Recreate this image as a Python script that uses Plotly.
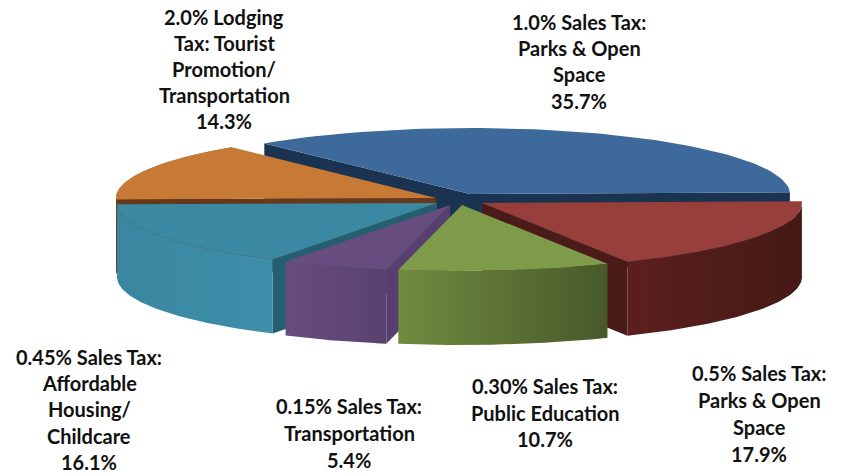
import math
import plotly.graph_objects as go

# ---- data ----
categories = ["1.0% Sales Tax: Parks & Open Space",
              "0.5% Sales Tax: Parks & Open Space",
              "0.30% Sales Tax: Public Education",
              "0.15% Sales Tax: Transportation",
              "0.45% Sales Tax: Affordable Housing/ Childcare",
              "2.0% Lodging Tax: Tourist Promotion/ Transportation"]
shares = [35.7, 17.9, 10.7, 5.4, 16.1, 14.3]
label_lines = [["1.0% Sales Tax:", "Parks & Open", "Space", "35.7%"],
               ["0.5% Sales Tax:", "Parks & Open", "Space", "17.9%"],
               ["0.30% Sales Tax:", "Public Education", "10.7%"],
               ["0.15% Sales Tax:", "Transportation", "5.4%"],
               ["0.45% Sales Tax:", "Affordable", "Housing/", "Childcare", "16.1%"],
               ["2.0% Lodging", "Tax: Tourist", "Promotion/", "Transportation", "14.3%"]]

# ---- styling / layout constants ----
W, H = 852, 474
START = -40.0
RX, RY, DEPTH = 320, 66, 74
apex = [(470, 194), (482, 203), (462, 205), (450, 205), (437, 203), (436, 198)]
top_col = ["#3E6A9B", "#983F3C", "#7E9B49", "#674C80", "#3B88A2", "#C67A36"]
face_col = ["#1A3350", "#4A1B18", "#4A5C27", "#574070", "#235F70", "#66391A"]
rim_cols = [("#1A3350", "#1A3350"), ("#5C201D", "#451916"), ("#708B3F", "#47592A"),
            ("#674C80", "#59426F"), ("#3A86A0", "#3D8EA9"), ("#C67A36", "#8A5020")]
label_pos = [(579, 22, 26.2), (759, 373, 27), (545, 386, 26.5),
             (349, 406, 27), (89, 357, 26.2), (224, 17, 26)]

# angles derived from shares
edges = [START]
for s in shares:
    edges.append(edges[-1] + s * 3.6)


def arc(c, a0, a1, dy=0, n=70):
    pts = []
    for i in range(n + 1):
        t = math.radians(a0 + (a1 - a0) * i / n)
        pts.append((c[0] + RX * math.sin(t), c[1] - RY * math.cos(t) + dy))
    return pts


fig = go.Figure()


def poly(pts, color, grad=None):
    xs = [p[0] for p in pts] + [pts[0][0]]
    ys = [p[1] for p in pts] + [pts[0][1]]
    kw = dict(fillcolor=color)
    if grad:
        kw = dict(fillgradient=dict(type="horizontal",
                                    colorscale=[[0, grad[0]], [1, grad[1]]]))
    fig.add_trace(go.Scatter(x=xs, y=ys, mode="lines", fill="toself",
                             line=dict(width=0, color=color),
                             hoverinfo="skip", showlegend=False, **kw))


def rim(i):
    a = arc(apex[i], edges[i], edges[i + 1])
    b = arc(apex[i], edges[i], edges[i + 1], DEPTH)
    poly(a + b[::-1], face_col[i], rim_cols[i])


def side(i, which):
    c = apex[i]
    ang = edges[i] if which == 0 else edges[i + 1]
    p = arc(c, ang, ang, n=1)[0]
    poly([c, p, (p[0], p[1] + DEPTH), (c[0], c[1] + DEPTH)], face_col[i])


def top(i):
    poly([apex[i]] + arc(apex[i], edges[i], edges[i + 1]), top_col[i])


# painter's order, back to front
# blue
side(0, 0); side(0, 1); top(0)
# orange
rim(5); side(5, 0); top(5)
# red
side(1, 1); rim(1); top(1)
# teal
side(4, 0); rim(4); top(4)
# purple
side(3, 0); rim(3); top(3)
# green
rim(2); top(2)

for lines, (cx, y0, step) in zip(label_lines, label_pos):
    for j, line in enumerate(lines):
        fig.add_annotation(x=cx, y=y0 + j * step, text=line, showarrow=False,
                           xanchor="center", yanchor="middle",
                           font=dict(family="Lato", size=20, color="#111111",
                                     weight="bold"))

fig.update_layout(width=W, height=H, margin=dict(l=0, r=0, t=0, b=0),
                  paper_bgcolor="white", plot_bgcolor="white", showlegend=False,
                  xaxis=dict(range=[0, W], visible=False, fixedrange=True),
                  yaxis=dict(range=[H, 0], visible=False, fixedrange=True))
fig.write_html("out.html", config={"displayModeBar": False},
               post_script="document.body.style.margin='0';")
